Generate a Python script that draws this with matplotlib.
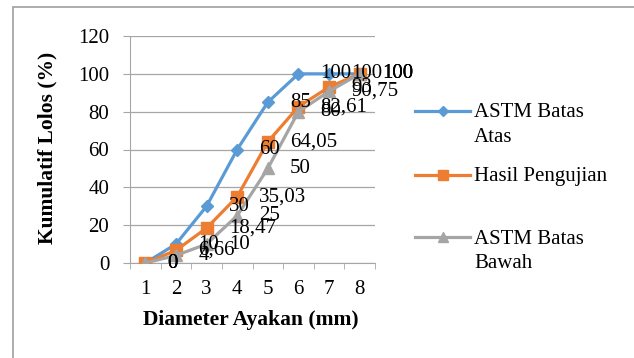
import numpy as np
import matplotlib.pyplot as plt
from matplotlib.lines import Line2D
from matplotlib.patches import Rectangle

plt.rcParams['font.family'] = ['Liberation Serif', 'DejaVu Serif']

sieve = [1, 2, 3, 4, 5, 6, 7, 8]
upper = [0, 10, 30, 60, 85, 100, 100, 100]
result = [0, 6.66, 18.47, 35.03, 64.05, 82.61, 93, 100]
lower = [0, 4, 10, 25, 50, 80, 90.75, 100]

names = [['ASTM Batas', 'Atas'], ['Hasil Pengujian'], ['ASTM Batas', 'Bawah']]
colors = ['#5B9BD5', '#ED7D31', '#A5A5A5']
markers = ['D', 's', '^']
msizes = [6.5, 8, 8.5]

fig = plt.figure(figsize=(6.34, 3.58), dpi=100)
ax = fig.add_axes([130 / 634, 1 - 263 / 358, 245 / 634, 227 / 358])


def fmt(v):
    s = f'{v:.2f}'.rstrip('0').rstrip('.')
    return s.replace('.', ',')


for ys, c, m, ms in zip([upper, result, lower], colors, markers, msizes):
    ax.plot(sieve, ys, color=c, lw=2.3, marker=m, ms=ms, mec=c, mfc=c, zorder=3)

for ys in [upper, result, lower]:
    for x, y in zip(sieve, ys):
        ax.annotate(fmt(y), (x, y), xytext=(16, 0), textcoords='offset points',
                    ha='left', va='center', fontsize=15, zorder=5)

ax.set_xlim(0.5, 8.5)
ax.set_ylim(0, 120)
ax.set_yticks(np.arange(0, 121, 20))
ax.set_xticks(sieve)
ax.set_xticks(np.arange(0.5, 8.6, 1), minor=True)
ax.grid(axis='y', color='#a6a6a6', lw=0.9)
ax.set_axisbelow(True)
for s in ['top', 'right']:
    ax.spines[s].set_visible(False)
ax.spines['left'].set_color('#a6a6a6')
ax.spines['bottom'].set_color('#a6a6a6')
ax.tick_params(axis='y', length=5, color='#a6a6a6', labelsize=15, pad=10)
ax.tick_params(axis='x', which='major', length=0, labelsize=15, pad=12)
ax.tick_params(axis='x', which='minor', length=4, color='#a6a6a6')

fig.text(47 / 634, 1 - 148 / 358, 'Kumulatif Lolos (%)', rotation=90,
         ha='center', va='center', fontsize=15.5, fontweight='bold')
fig.text(251 / 634, 1 - 320 / 358, 'Diameter Ayakan (mm)',
         ha='center', va='center', fontsize=15.5, fontweight='bold')

# legend on the right
rows = [111, 175, 237]
for lines, c, m, ms, yp in zip(names, colors, markers, msizes, rows):
    y = 1 - yp / 358
    fig.add_artist(Line2D([415 / 634, 470 / 634], [y, y], color=c, lw=2.3))
    fig.add_artist(Line2D([442.5 / 634], [y], color=c, marker=m, ms=ms - 1, mec=c, mfc=c))
    for i, t in enumerate(lines):
        fig.text(474 / 634, 1 - (yp + 2 + i * 24) / 358, t, ha='left', va='center', fontsize=15)

fig.add_artist(Rectangle((13 / 634, -0.1), 2, 1.1 - 7 / 358, transform=fig.transFigure,
                         fill=False, edgecolor='#a0a0a0', lw=1.2))

fig.savefig('out.png', dpi=100)
